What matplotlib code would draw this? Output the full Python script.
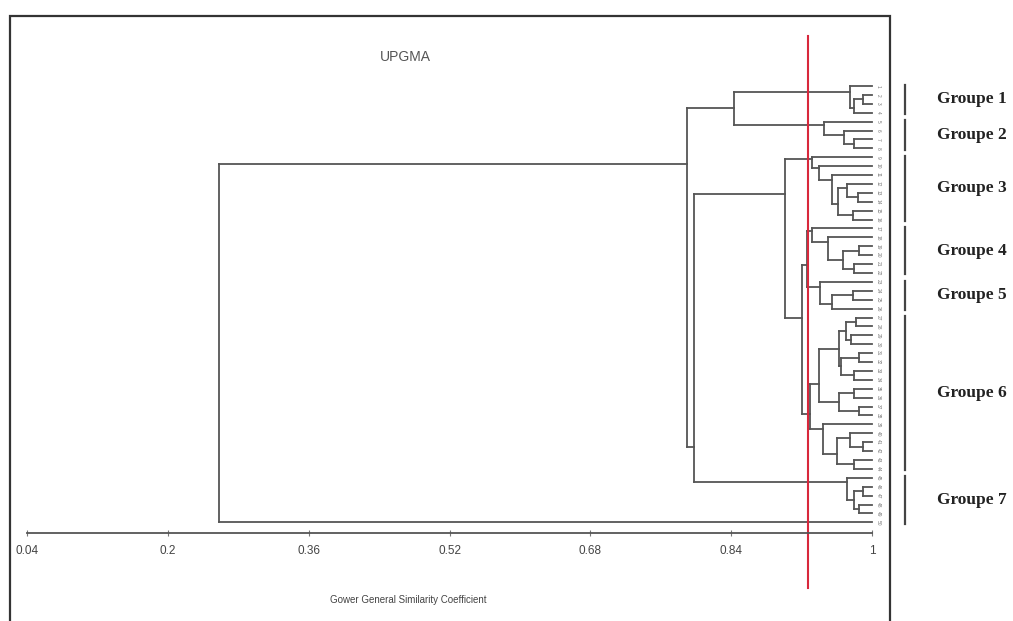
import matplotlib
matplotlib.use("Agg")
import matplotlib.pyplot as plt
import matplotlib.transforms as mtransforms
from matplotlib.patches import Rectangle

plt.rcParams['font.family'] = ['Liberation Sans', 'DejaVu Sans']

# ---- data ----
# internal node = [left, right, similarity], leaf = index (top to bottom)
group1 = [0, [[1, 2, 0.990], 3, 0.979], 0.975]
group2 = [4, [5, [6, 7, 0.980], 0.968], 0.946]
group3 = [8, [9, [10, [[11, [12, 13, 0.984], 0.972], [14, 15, 0.978], 0.961],
                  0.955], 0.940], 0.932]
group4 = [16, [17, [[18, 19, 0.985], [20, 21, 0.980], 0.967], 0.950], 0.932]
group5 = [22, [[23, 24, 0.978], 25, 0.955], 0.941]
group6a = [[[[26, 27, 0.982], [28, 29, 0.976], 0.970],
            [[30, 31, 0.985], [32, 33, 0.980], 0.965], 0.962],
           [[34, 35, 0.980], [36, 37, 0.985], 0.963], 0.940]
group6b = [38, [[39, [40, 41, 0.990], 0.975], [42, 43, 0.980], 0.960], 0.944]
group6 = [group6a, group6b, 0.930]
group7 = [44, [[45, 46, 0.990], [47, 48, 0.985], 0.980], 0.972]
outlier = 49

top_cluster = [group1, group2, 0.843]
g45 = [group4, group5, 0.926]
g456 = [g45, group6, 0.921]
g3456 = [group3, g456, 0.901]
lower_cluster = [g3456, group7, 0.798]
main_cluster = [top_cluster, lower_cluster, 0.790]
tree = [main_cluster, outlier, 0.258]

leaf_labels = [str(i + 1) for i in range(50)]

group_names = ['Groupe 1', 'Groupe 2', 'Groupe 3', 'Groupe 4', 'Groupe 5',
               'Groupe 6', 'Groupe 7']
group_first = [0, 4, 8, 16, 22, 26, 44]
group_last = [3, 7, 15, 21, 25, 43, 49]

xticks = [0.04, 0.2, 0.36, 0.52, 0.68, 0.84, 1.0]
xticklabels = ['0.04', '0.2', '0.36', '0.52', '0.68', '0.84', '1']
cut_level = 0.9275


def collect(node, segs):
    # returns (y, n_leaves, similarity) and fills line segments
    if isinstance(node, int):
        return float(node), 1, 1.0
    left, right, sim = node
    ya, na, sa = collect(left, segs)
    yb, nb, sb = collect(right, segs)
    segs.append(([sim, sim], [ya, yb]))
    segs.append(([sim, sa], [ya, ya]))
    segs.append(([sim, sb], [yb, yb]))
    # node drawn nearer to the smaller child
    y = (ya * nb + yb * na) / (na + nb)
    return y, na + nb, sim


W, H = 1013, 621
fig = plt.figure(figsize=(W / 100, H / 100), dpi=100)
ax = fig.add_axes([27 / W, 88 / H, 845 / W, 451.45 / H])
ax.set_xlim(0.04, 1.0)
ax.set_ylim(50.2, -0.5)

segs = []
collect(tree, segs)
for xs, ys in segs:
    ax.plot(xs, ys, color='#555555', lw=1.3, clip_on=False)

for k, lab in enumerate(leaf_labels):
    ax.text(1.0045, k, lab, fontsize=3.5, rotation=270, ha='left',
            va='center', color='#777777', clip_on=False)

ax.axvline(cut_level, ymin=-0.122, ymax=1.101, color='#d8283c', lw=1.5,
           clip_on=False)

for side in ['top', 'left', 'right']:
    ax.spines[side].set_visible(False)
ax.spines['bottom'].set_bounds(0.04, 1.0)
ax.spines['bottom'].set_color('#555555')
ax.spines['bottom'].set_linewidth(1.3)
ax.set_yticks([])
ax.set_xticks(xticks)
ax.set_xticklabels(xticklabels)
ax.tick_params(axis='x', direction='inout', length=5, width=0.8,
               colors='#777777', labelcolor='#444444', pad=6, labelsize=8.5)
ax.patch.set_visible(False)

# group brackets on the right
trans = mtransforms.blended_transform_factory(fig.transFigure, ax.transData)
for name, a, b in zip(group_names, group_first, group_last):
    ax.plot([905 / W, 905 / W], [a - 0.15, b + 0.15], color='#444444',
            lw=1.6, transform=trans, clip_on=False)
    ax.text(937 / W, (a + b) / 2, name, transform=trans, ha='left',
            va='center', fontsize=12.5, fontweight='bold',
            family=['Liberation Serif', 'DejaVu Serif'], color='#222222')

fig.text(405 / W, 1 - 57 / H, 'UPGMA', ha='center', va='center',
         fontsize=10, color='#555555')
fig.text(408 / W, 1 - 600 / H, 'Gower General Similarity Coefficient',
         ha='center', va='center', fontsize=7, color='#444444')

fig.patches.append(Rectangle((10 / W, -0.05), 880 / W, 1 - 16 / H + 0.05,
                             transform=fig.transFigure, fill=False,
                             ec='#333333', lw=1.6))

fig.savefig('out.png', dpi=100)
